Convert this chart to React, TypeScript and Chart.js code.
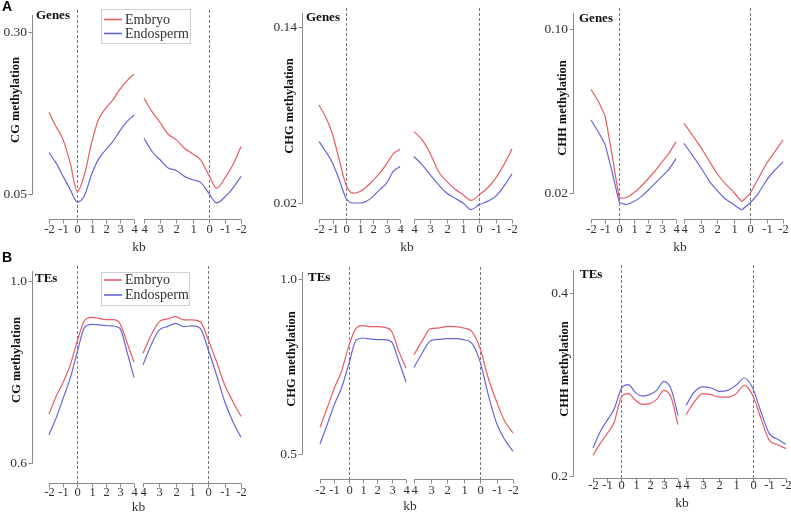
import React, { useEffect, useRef } from 'react';
import { Chart, registerables } from 'chart.js';
Chart.register(...registerables);

// ---- shared categories / tick labels ----
const KB_UP = [-2, -1.5, -1, -0.5, 0, 0.5, 1, 1.5, 2, 2.5, 3, 3.5, 4];
const KB_DOWN = [4, 3.5, 3, 2.5, 2, 1.5, 1, 0.5, 0, -0.5, -1, -1.5, -2];
const TICKS_UP = [-2, -1, 0, 1, 2, 3, 4];
const TICKS_DOWN = [4, 3, 2, 1, 0, -1, -2];
const SERIES = ['Embryo', 'Endosperm'];
const X_TITLE = 'kb';

// ---- A: Genes ----
const genesCgEmbryoUp = [0.176, 0.154, 0.1335, 0.0976, 0.054, 0.0797, 0.1284, 0.1653, 0.1822, 0.195, 0.2114, 0.2247, 0.235];
const genesCgEmbryoDown = [0.1975, 0.177, 0.16, 0.1422, 0.1335, 0.1207, 0.112, 0.1028, 0.0797, 0.0592, 0.0746, 0.0951, 0.1233];
const genesCgEndoUp = [0.114, 0.0976, 0.0772, 0.0567, 0.0377, 0.0474, 0.0797, 0.1038, 0.1181, 0.1309, 0.1473, 0.1617, 0.1719];
const genesCgEndoDown = [0.136, 0.1156, 0.1028, 0.09, 0.0864, 0.0772, 0.072, 0.0679, 0.0515, 0.0362, 0.0454, 0.0592, 0.0772];

const genesChgEmbryoUp = [0.0868, 0.0784, 0.0669, 0.0494, 0.0325, 0.0268, 0.0277, 0.0309, 0.0354, 0.0404, 0.0467, 0.0535, 0.0567];
const genesChgEmbryoDown = [0.0687, 0.063, 0.0535, 0.0415, 0.0347, 0.0295, 0.0257, 0.0218, 0.0257, 0.0302, 0.037, 0.046, 0.0569];
const genesChgEndoUp = [0.0619, 0.0551, 0.0472, 0.0358, 0.0234, 0.02, 0.02, 0.0211, 0.0245, 0.0291, 0.0336, 0.0415, 0.0449];
const genesChgEndoDown = [0.0517, 0.046, 0.0392, 0.0325, 0.0268, 0.0234, 0.02, 0.0155, 0.0189, 0.0211, 0.0245, 0.0313, 0.0399];

const genesChhEmbryoUp = [0.0705, 0.065, 0.0575, 0.038, 0.0175, 0.0178, 0.02, 0.0229, 0.0267, 0.0306, 0.035, 0.0393, 0.045];
const genesChhEmbryoDown = [0.054, 0.0483, 0.0425, 0.036, 0.0295, 0.0246, 0.0205, 0.0159, 0.0197, 0.027, 0.0344, 0.0401, 0.0458];
const genesChhEndoUp = [0.0556, 0.05, 0.0435, 0.03, 0.0155, 0.0143, 0.0157, 0.018, 0.0211, 0.0246, 0.028, 0.0315, 0.0368];
const genesChhEndoDown = [0.0442, 0.0385, 0.0327, 0.0262, 0.0213, 0.0172, 0.0144, 0.0118, 0.0151, 0.0197, 0.0262, 0.0311, 0.0352];

// ---- B: TEs ----
const tesCgEmbryoUp = [0.7075, 0.7462, 0.7776, 0.8157, 0.8683, 0.9129, 0.9202, 0.918, 0.9151, 0.9151, 0.907, 0.8654, 0.8215];
const tesCgEmbryoDown = [0.8413, 0.8815, 0.9107, 0.9166, 0.9217, 0.9144, 0.9144, 0.9107, 0.8705, 0.823, 0.7718, 0.7353, 0.7023];
const tesCgEndoUp = [0.6621, 0.6987, 0.7425, 0.7864, 0.8449, 0.8975, 0.9048, 0.9034, 0.9019, 0.9012, 0.8961, 0.8449, 0.7879];
const tesCgEndoDown = [0.8157, 0.8596, 0.8925, 0.8998, 0.907, 0.8998, 0.9012, 0.8961, 0.8485, 0.7937, 0.7353, 0.6914, 0.6563];

const tesChgEmbryoUp = [0.5762, 0.6314, 0.6886, 0.7362, 0.8076, 0.8581, 0.8667, 0.8638, 0.8638, 0.8619, 0.8505, 0.7933, 0.7457];
const tesChgEmbryoDown = [0.7838, 0.8238, 0.8581, 0.86, 0.8648, 0.8638, 0.86, 0.8505, 0.8029, 0.7171, 0.6505, 0.5933, 0.56];
const tesChgEndoUp = [0.5286, 0.5838, 0.641, 0.6886, 0.7552, 0.8238, 0.8314, 0.8285, 0.8266, 0.8266, 0.82, 0.7648, 0.7057];
const tesChgEndoDown = [0.7476, 0.7886, 0.8238, 0.8276, 0.8295, 0.8295, 0.8266, 0.8171, 0.7648, 0.6695, 0.5886, 0.541, 0.5076];

const tesChhEmbryoUp = [0.2226, 0.2353, 0.2463, 0.259, 0.2863, 0.29, 0.2827, 0.2783, 0.2791, 0.2838, 0.2936, 0.2863, 0.2561];
const tesChhEmbryoDown = [0.267, 0.2809, 0.29, 0.2889, 0.2863, 0.2863, 0.29, 0.2991, 0.2882, 0.2627, 0.239, 0.2342, 0.2299];
const tesChhEndoUp = [0.2306, 0.2481, 0.2608, 0.2736, 0.2955, 0.2998, 0.2911, 0.2874, 0.2889, 0.2936, 0.3035, 0.2955, 0.2663];
const tesChhEndoDown = [0.2772, 0.2918, 0.2973, 0.2962, 0.2925, 0.2936, 0.2991, 0.3071, 0.2962, 0.27, 0.2463, 0.2401, 0.2346];

const W = 791;
const H = 514;
const RED = 'rgb(232,92,102)';
const BLUE = 'rgb(102,102,220)';
const AXIS = '#8a8a8a';
const TEXT = '#333';
const SERIF = '"Liberation Serif", "DejaVu Serif", serif';

type Geo = {
  yAxisX: number; axisTop: number; hiY: number; loY: number; xAxisY: number;
  L0: number; L1: number; R0: number; R1: number;
  titleX: number; titleY: number; labelX: number; labelY: number;
  tickLabelY: number; kbY: number;
};
type Legend = { x: number; y: number; w: number; h: number; row1: number; row2: number; lx0: number; lx1: number; tx: number };
type Panel = {
  yTitle: string; label: string; lo: number; hi: number; loText: string; hiText: string;
  embryoUp: number[]; embryoDown: number[]; endoUp: number[]; endoDown: number[];
  smooth: boolean; g: Geo; legend?: Legend; corner?: { text: string; x: number; y: number };
};

const PANELS: Panel[] = [
  {
    yTitle: 'CG methylation', label: 'Genes', lo: 0.05, hi: 0.3, loText: '0.05', hiText: '0.30',
    embryoUp: genesCgEmbryoUp, embryoDown: genesCgEmbryoDown, endoUp: genesCgEndoUp, endoDown: genesCgEndoDown,
    smooth: true,
    g: { yAxisX: 32, axisTop: 15, hiY: 32, loY: 194, xAxisY: 219, L0: 49, L1: 134, R0: 144, R1: 241, titleX: 16, titleY: 100, labelX: 36, labelY: 16, tickLabelY: 230, kbY: 247 },
    legend: { x: 101, y: 9, w: 89, h: 34, row1: 19.5, row2: 33.5, lx0: 104, lx1: 122, tx: 125 },
    corner: { text: 'A', x: 2, y: 7 },
  },
  {
    yTitle: 'CHG methylation', label: 'Genes', lo: 0.02, hi: 0.14, loText: '0.02', hiText: '0.14',
    embryoUp: genesChgEmbryoUp, embryoDown: genesChgEmbryoDown, endoUp: genesChgEndoUp, endoDown: genesChgEndoDown,
    smooth: true,
    g: { yAxisX: 302, axisTop: 13, hiY: 27, loY: 203, xAxisY: 219, L0: 319, L1: 400, R0: 414, R1: 512, titleX: 290, titleY: 106, labelX: 306, labelY: 18, tickLabelY: 230, kbY: 247 },
  },
  {
    yTitle: 'CHH methylation', label: 'Genes', lo: 0.02, hi: 0.1, loText: '0.02', hiText: '0.10',
    embryoUp: genesChhEmbryoUp, embryoDown: genesChhEmbryoDown, endoUp: genesChhEndoUp, endoDown: genesChhEndoDown,
    smooth: false,
    g: { yAxisX: 573, axisTop: 13, hiY: 29, loY: 193, xAxisY: 219, L0: 591, L1: 676, R0: 684, R1: 783, titleX: 563, titleY: 108, labelX: 579, labelY: 19, tickLabelY: 230, kbY: 247 },
  },
  {
    yTitle: 'CG methylation', label: 'TEs', lo: 0.6, hi: 1.0, loText: '0.6', hiText: '1.0',
    embryoUp: tesCgEmbryoUp, embryoDown: tesCgEmbryoDown, endoUp: tesCgEndoUp, endoDown: tesCgEndoDown,
    smooth: true,
    g: { yAxisX: 32, axisTop: 271, hiY: 281, loY: 463, xAxisY: 483, L0: 49, L1: 134, R0: 143, R1: 241, titleX: 17, titleY: 360, labelX: 35, labelY: 279, tickLabelY: 493, kbY: 507 },
    legend: { x: 101, y: 272, w: 88, h: 33, row1: 280, row2: 295, lx0: 104, lx1: 122, tx: 125 },
    corner: { text: 'B', x: 2, y: 258 },
  },
  {
    yTitle: 'CHG methylation', label: 'TEs', lo: 0.5, hi: 1.0, loText: '0.5', hiText: '1.0',
    embryoUp: tesChgEmbryoUp, embryoDown: tesChgEmbryoDown, endoUp: tesChgEndoUp, endoDown: tesChgEndoDown,
    smooth: true,
    g: { yAxisX: 302, axisTop: 272, hiY: 279, loY: 454, xAxisY: 479, L0: 320, L1: 406, R0: 414, R1: 513, titleX: 292, titleY: 359, labelX: 308, labelY: 278, tickLabelY: 491, kbY: 506 },
  },
  {
    yTitle: 'CHH methylation', label: 'TEs', lo: 0.2, hi: 0.4, loText: '0.2', hiText: '0.4',
    embryoUp: tesChhEmbryoUp, embryoDown: tesChhEmbryoDown, endoUp: tesChhEndoUp, endoDown: tesChhEndoDown,
    smooth: true,
    g: { yAxisX: 573, axisTop: 270, hiY: 293, loY: 476, xAxisY: 478, L0: 593, L1: 678, R0: 686, R1: 786, titleX: 565, titleY: 369, labelX: 580, labelY: 275, tickLabelY: 486, kbY: 503 },
  },
];

function PanelChart({ panel }: { panel: Panel }) {
  const ref = useRef<HTMLCanvasElement>(null);
  useEffect(() => {
    const g = panel.g;
    const unit = (g.L1 - g.L0) / 6;
    const gapU = (g.R0 - g.L1) / unit;
    const r = (g.R1 - g.R0) / (g.L1 - g.L0);
    const posUp = (kb: number) => kb + 2;
    const posDown = (kb: number) => 6 + gapU + (4 - kb) * r;
    const total = posDown(-2);
    const ppv = (g.loY - g.hiY) / (panel.hi - panel.lo);
    const yMax = panel.hi + (g.hiY - g.axisTop) / ppv;
    const yMin = panel.lo - (g.xAxisY - g.loY) / ppv;
    const mk = (kbs: number[], vals: number[], pos: (k: number) => number) =>
      kbs.map((k, i) => ({ x: pos(k), y: vals[i] }));
    const ds = (label: string, data: any[], color: string) => ({
      label, data, borderColor: color, backgroundColor: color, borderWidth: 1.2,
      pointRadius: 0, fill: false, clip: 6,
      cubicInterpolationMode: panel.smooth ? 'monotone' : 'default',
      tension: panel.smooth ? 0.4 : 0.05,
    });

    const line = (ctx: CanvasRenderingContext2D, x0: number, y0: number, x1: number, y1: number) => {
      ctx.beginPath(); ctx.moveTo(x0, y0); ctx.lineTo(x1, y1); ctx.stroke();
    };

    const deco = {
      id: 'deco',
      beforeDatasetsDraw(chart: any) {
        const ctx = chart.ctx as CanvasRenderingContext2D;
        const xs = chart.scales.x;
        ctx.save();
        ctx.strokeStyle = '#777';
        ctx.lineWidth = 1;
        ctx.setLineDash([3, 2]);
        [posUp(0), posDown(0)].forEach((p) => {
          const px = Math.round(xs.getPixelForValue(p)) + 0.5;
          line(ctx, px, g.axisTop - 5, px, chart.chartArea.bottom);
        });
        ctx.restore();
      },
      afterDraw(chart: any) {
        const ctx = chart.ctx as CanvasRenderingContext2D;
        const xs = chart.scales.x;
        const ys = chart.scales.y;
        ctx.save();
        ctx.strokeStyle = AXIS;
        ctx.lineWidth = 1;
        // y axis
        const ax = g.yAxisX + 0.5;
        const yHi = Math.round(ys.getPixelForValue(panel.hi)) + 0.5;
        const yLo = Math.round(ys.getPixelForValue(panel.lo)) + 0.5;
        line(ctx, ax, chart.chartArea.top, ax, yLo);
        line(ctx, ax - 4, yHi, ax, yHi);
        line(ctx, ax - 4, yLo, ax, yLo);
        ctx.fillStyle = TEXT;
        ctx.font = `13.5px ${SERIF}`;
        ctx.textAlign = 'right';
        ctx.textBaseline = 'middle';
        ctx.fillText(panel.hiText, g.yAxisX - 5, yHi);
        ctx.fillText(panel.loText, g.yAxisX - 5, yLo);
        // x axis segments
        const yA = Math.round(chart.chartArea.bottom) + 0.5;
        ctx.textAlign = 'center';
        ctx.font = `12.5px ${SERIF}`;
        const seg = (ticks: number[], pos: (k: number) => number) => {
          const a = xs.getPixelForValue(pos(ticks[0]));
          const b = xs.getPixelForValue(pos(ticks[ticks.length - 1]));
          line(ctx, a, yA, b, yA);
          ticks.forEach((t) => {
            const px = Math.round(xs.getPixelForValue(pos(t))) + 0.5;
            line(ctx, px, yA, px, yA + 4);
            ctx.fillText(String(t), px, g.tickLabelY);
          });
        };
        seg(TICKS_UP, posUp);
        seg(TICKS_DOWN, posDown);
        ctx.font = `13.5px ${SERIF}`;
        const mid = (xs.getPixelForValue(posUp(4)) + xs.getPixelForValue(posDown(4))) / 2;
        ctx.fillText(X_TITLE, mid, g.kbY);
        // y title
        ctx.save();
        ctx.translate(g.titleX, g.titleY);
        ctx.rotate(-Math.PI / 2);
        ctx.font = `bold 12.5px ${SERIF}`;
        ctx.fillStyle = '#111';
        ctx.textAlign = 'center';
        ctx.fillText(panel.yTitle, 0, 0);
        ctx.restore();
        // panel label
        ctx.font = `bold 13px ${SERIF}`;
        ctx.fillStyle = '#111';
        ctx.textAlign = 'left';
        ctx.fillText(panel.label, g.labelX, g.labelY);
        // legend
        if (panel.legend) {
          const L = panel.legend;
          ctx.strokeStyle = '#d0d0d0';
          ctx.strokeRect(L.x + 0.5, L.y + 0.5, L.w, L.h);
          ctx.lineWidth = 1.6;
          ctx.strokeStyle = RED;
          line(ctx, L.lx0, L.row1, L.lx1, L.row1);
          ctx.strokeStyle = BLUE;
          line(ctx, L.lx0, L.row2, L.lx1, L.row2);
          ctx.font = `14px ${SERIF}`;
          ctx.fillStyle = TEXT;
          ctx.fillText(SERIES[0], L.tx, L.row1 + 0.5);
          ctx.fillText(SERIES[1], L.tx, L.row2 + 0.5);
        }
        if (panel.corner) {
          ctx.font = 'bold 14px "Liberation Sans", Arial, sans-serif';
          ctx.fillStyle = '#000';
          ctx.textAlign = 'left';
          ctx.fillText(panel.corner.text, panel.corner.x, panel.corner.y);
        }
        ctx.restore();
      },
    };

    const chart = new Chart(ref.current as HTMLCanvasElement, {
      type: 'line',
      data: {
        datasets: [
          ds(SERIES[1], mk(KB_UP, panel.endoUp, posUp), BLUE),
          ds(SERIES[1], mk(KB_DOWN, panel.endoDown, posDown), BLUE),
          ds(SERIES[0], mk(KB_UP, panel.embryoUp, posUp), RED),
          ds(SERIES[0], mk(KB_DOWN, panel.embryoDown, posDown), RED),
        ] as any,
      },
      options: {
        responsive: false,
        animation: false,
        devicePixelRatio: 1,
        events: [],
        layout: { padding: { left: g.L0, top: g.axisTop, right: W - g.R1, bottom: H - g.xAxisY } },
        plugins: { legend: { display: false }, tooltip: { enabled: false }, title: { display: false } },
        scales: {
          x: { type: 'linear', min: 0, max: total, display: false },
          y: { type: 'linear', min: yMin, max: yMax, display: false },
        },
      } as any,
      plugins: [deco],
    });
    return () => chart.destroy();
  }, [panel]);
  return (
    <canvas
      ref={ref}
      width={W}
      height={H}
      style={{ position: 'absolute', left: 0, top: 0, width: W, height: H }}
    />
  );
}

export default function App() {
  return (
    <div style={{ position: 'fixed', left: 0, top: 0, width: W, height: H, background: '#fff', overflow: 'hidden' }}>
      {PANELS.map((p, i) => (
        <PanelChart key={i} panel={p} />
      ))}
    </div>
  );
}
